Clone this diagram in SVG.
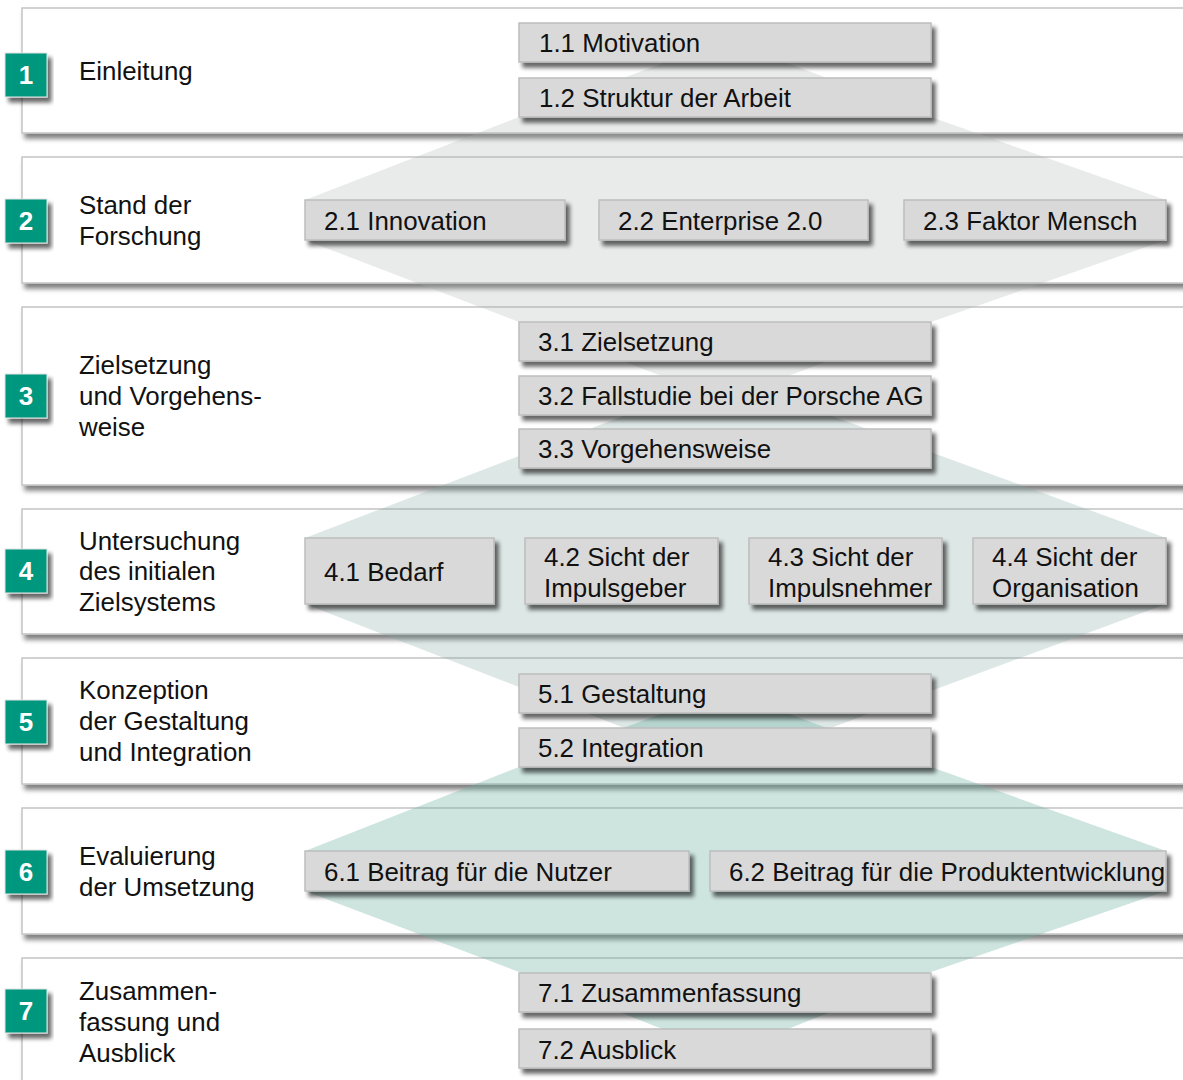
<svg xmlns="http://www.w3.org/2000/svg" width="1183" height="1080" viewBox="0 0 1183 1080">
  <style>
    .band { fill: #ffffff; stroke: #c4c4c4; stroke-width: 1.5; filter: url(#bandShadow); }
    .sub { fill: #d9d9d9; stroke: #bdbdbd; stroke-width: 1.5; filter: url(#boxShadow); }
    .badge { fill: #00977f; stroke: #e4e4e4; stroke-width: 1; filter: url(#boxShadow); }
    .num { font-family: "Liberation Sans", Arial, Helvetica, sans-serif; font-size: 26px; font-weight: bold; fill: #ffffff; text-anchor: middle; }
    .lbl { font-family: "Liberation Sans", Arial, Helvetica, sans-serif; font-size: 25.9px; fill: #111111; }
    .flowA { fill: #a9b0b0; fill-opacity: 0.26; }
    .flowB { fill: #80a8a0; fill-opacity: 0.27; }
    .flowC { fill: #6cb0a2; fill-opacity: 0.34; }
  </style>
  <defs>
    <filter id="bandShadow" x="-5%" y="-20%" width="115%" height="150%">
      <feGaussianBlur in="SourceAlpha" stdDeviation="2.5"/>
      <feOffset dx="3" dy="5" result="off"/>
      <feComponentTransfer><feFuncA type="linear" slope="0.5"/></feComponentTransfer>
      <feMerge><feMergeNode/><feMergeNode in="SourceGraphic"/></feMerge>
    </filter>
    <filter id="boxShadow" x="-10%" y="-30%" width="125%" height="170%">
      <feGaussianBlur in="SourceAlpha" stdDeviation="2"/>
      <feOffset dx="4" dy="5" result="off"/>
      <feComponentTransfer><feFuncA type="linear" slope="0.6"/></feComponentTransfer>
      <feMerge><feMergeNode/><feMergeNode in="SourceGraphic"/></feMerge>
    </filter>
  </defs>

  <rect width="1183" height="1080" fill="#ffffff"/>

  <!-- chapter bands -->
  <g id="chapter-1"><rect class="band" x="22" y="8" width="1200" height="125"/></g>
  <g id="chapter-2"><rect class="band" x="22" y="157" width="1200" height="126"/></g>
  <g id="chapter-3"><rect class="band" x="22" y="307" width="1200" height="178"/></g>
  <g id="chapter-4"><rect class="band" x="22" y="509" width="1200" height="125"/></g>
  <g id="chapter-5"><rect class="band" x="22" y="658" width="1200" height="126"/></g>
  <g id="chapter-6"><rect class="band" x="22" y="808" width="1200" height="126"/></g>
  <g id="chapter-7"><rect class="band" x="22" y="958" width="1200" height="160"/></g>

  <!-- flow shapes linking the section rows -->
  <g id="connectors">
    <polygon class="flowA" points="725,40 931,117 1166,200 1166,240 931,322 725,400 519,322 305,240 305,200 519,117"/>
    <polygon class="flowB" points="725,377 1166,538 1166,604 725,767 305,604 305,538"/>
    <polygon class="flowC" points="725,690 931,767 1166,851 1166,891 931,972 725,1054 519,972 305,891 305,851 519,767"/>
  </g>

  <!-- chapter titles and numbers -->
  <g id="title-1">
    <rect class="badge" x="5" y="53" width="42" height="44"/>
    <text class="num" x="26" y="84">1</text>
    <text class="lbl" x="79" y="80">Einleitung</text>
  </g>
  <g id="title-2">
    <rect class="badge" x="5" y="199" width="42" height="44"/>
    <text class="num" x="26" y="230">2</text>
    <text class="lbl" x="79" y="214">Stand der</text>
    <text class="lbl" x="79" y="245">Forschung</text>
  </g>
  <g id="title-3">
    <rect class="badge" x="5" y="374" width="42" height="44"/>
    <text class="num" x="26" y="405">3</text>
    <text class="lbl" x="79" y="374">Zielsetzung</text>
    <text class="lbl" x="79" y="405">und Vorgehens-</text>
    <text class="lbl" x="79" y="436">weise</text>
  </g>
  <g id="title-4">
    <rect class="badge" x="5" y="549" width="42" height="44"/>
    <text class="num" x="26" y="580">4</text>
    <text class="lbl" x="79" y="550">Untersuchung</text>
    <text class="lbl" x="79" y="580">des initialen</text>
    <text class="lbl" x="79" y="611">Zielsystems</text>
  </g>
  <g id="title-5">
    <rect class="badge" x="5" y="700" width="42" height="44"/>
    <text class="num" x="26" y="731">5</text>
    <text class="lbl" x="79" y="699">Konzeption</text>
    <text class="lbl" x="79" y="730">der Gestaltung</text>
    <text class="lbl" x="79" y="761">und Integration</text>
  </g>
  <g id="title-6">
    <rect class="badge" x="5" y="850" width="42" height="44"/>
    <text class="num" x="26" y="881">6</text>
    <text class="lbl" x="79" y="865">Evaluierung</text>
    <text class="lbl" x="79" y="896">der Umsetzung</text>
  </g>
  <g id="title-7">
    <rect class="badge" x="5" y="989" width="42" height="44"/>
    <text class="num" x="26" y="1020">7</text>
    <text class="lbl" x="79" y="1000">Zusammen-</text>
    <text class="lbl" x="79" y="1031">fassung und</text>
    <text class="lbl" x="79" y="1062">Ausblick</text>
  </g>

  <!-- section boxes -->
  <g id="s1-1"><rect class="sub" x="519" y="23" width="412" height="39"/><text class="lbl" x="539" y="52">1.1 Motivation</text></g>
  <g id="s1-2"><rect class="sub" x="519" y="78" width="412" height="39"/><text class="lbl" x="539" y="107">1.2 Struktur der Arbeit</text></g>

  <g id="s2-1"><rect class="sub" x="305" y="200" width="260" height="40"/><text class="lbl" x="324" y="230">2.1 Innovation</text></g>
  <g id="s2-2"><rect class="sub" x="599" y="200" width="269" height="40"/><text class="lbl" x="618" y="230">2.2 Enterprise 2.0</text></g>
  <g id="s2-3"><rect class="sub" x="904" y="200" width="262" height="40"/><text class="lbl" x="923" y="230">2.3 Faktor Mensch</text></g>

  <g id="s3-1"><rect class="sub" x="519" y="322" width="412" height="39"/><text class="lbl" x="538" y="351">3.1 Zielsetzung</text></g>
  <g id="s3-2"><rect class="sub" x="519" y="376" width="412" height="39"/><text class="lbl" x="538" y="405">3.2 Fallstudie bei der Porsche AG</text></g>
  <g id="s3-3"><rect class="sub" x="519" y="429" width="412" height="39"/><text class="lbl" x="538" y="458">3.3 Vorgehensweise</text></g>

  <g id="s4-1"><rect class="sub" x="305" y="538" width="189" height="66"/><text class="lbl" x="324" y="581">4.1 Bedarf</text></g>
  <g id="s4-2"><rect class="sub" x="525" y="538" width="193" height="66"/><text class="lbl" x="544" y="566">4.2 Sicht der</text><text class="lbl" x="544" y="597">Impulsgeber</text></g>
  <g id="s4-3"><rect class="sub" x="749" y="538" width="193" height="66"/><text class="lbl" x="768" y="566">4.3 Sicht der</text><text class="lbl" x="768" y="597">Impulsnehmer</text></g>
  <g id="s4-4"><rect class="sub" x="973" y="538" width="193" height="66"/><text class="lbl" x="992" y="566">4.4 Sicht der</text><text class="lbl" x="992" y="597">Organisation</text></g>

  <g id="s5-1"><rect class="sub" x="519" y="674" width="412" height="39"/><text class="lbl" x="538" y="703">5.1 Gestaltung</text></g>
  <g id="s5-2"><rect class="sub" x="519" y="728" width="412" height="39"/><text class="lbl" x="538" y="757">5.2 Integration</text></g>

  <g id="s6-1"><rect class="sub" x="305" y="851" width="384" height="40"/><text class="lbl" x="324" y="881">6.1 Beitrag für die Nutzer</text></g>
  <g id="s6-2"><rect class="sub" x="710" y="851" width="456" height="40"/><text class="lbl" x="729" y="881">6.2 Beitrag für die Produktentwicklung</text></g>

  <g id="s7-1"><rect class="sub" x="519" y="973" width="412" height="39"/><text class="lbl" x="538" y="1002">7.1 Zusammenfassung</text></g>
  <g id="s7-2"><rect class="sub" x="519" y="1029" width="412" height="39"/><text class="lbl" x="538" y="1059">7.2 Ausblick</text></g>
</svg>
